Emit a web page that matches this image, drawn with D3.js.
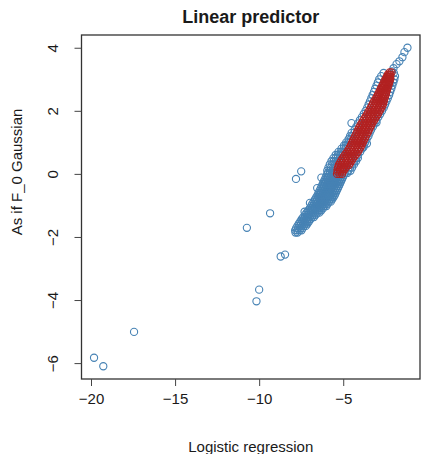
<!DOCTYPE html>
<html>
<head>
<meta charset="utf-8">
<script src="https://cdn.jsdelivr.net/npm/d3@7"></script>
<style>
    body { margin: 0; background: #fff; }
    text { font-family: "Liberation Sans", Arial, sans-serif; fill: #1a1a1a; }
</style>
</head>
<body>
<div id="chart"></div>
<script>
// isolated blue points (logistic, gaussian)
var blueSingles = [
    [-19.82, -5.83], [-19.27, -6.10], [-17.44, -5.01], [-10.16, -4.04], [-10.00, -3.67],
    [-10.73, -1.71], [-9.35, -1.25], [-8.72, -2.62], [-8.46, -2.56], [-7.81, -0.16],
    [-7.50, 0.08], [-4.51, 1.61], [-3.59, 0.96], [-3.79, 0.85], [-3.02, 1.63],
    [-7.30, -1.20], [-7.12, -1.36], [-6.98, -0.92], [-6.55, -0.45], [-6.30, -0.12],
    [-2.62, 2.31], [-2.20, 2.86],
    [-1.18, 4.00], [-1.36, 3.86], [-1.48, 3.70], [-1.66, 3.57], [-1.83, 3.48],
    [-2.01, 3.35], [-2.10, 3.25]
];

// dense blue cloud, one row per y value: [y, x, x, ...]
var blueRows = [
    [-1.86, -7.84, -7.72],
    [-1.79, -7.86, -7.73, -7.60, -7.48],
    [-1.72, -7.80, -7.67, -7.54, -7.41],
    [-1.65, -7.72, -7.59, -7.46, -7.33, -7.22],
    [-1.58, -7.64, -7.51, -7.38, -7.25, -7.13],
    [-1.51, -7.55, -7.42, -7.29, -7.16, -7.04],
    [-1.44, -7.47, -7.34, -7.21, -7.08, -6.95],
    [-1.37, -7.38, -7.25, -7.12, -6.99, -6.86, -6.74],
    [-1.30, -7.28, -7.15, -7.02, -6.89, -6.76, -6.64],
    [-1.23, -7.18, -7.05, -6.92, -6.79, -6.66, -6.53, -6.42],
    [-1.16, -7.08, -6.95, -6.82, -6.69, -6.56, -6.43, -6.31],
    [-1.09, -6.98, -6.85, -6.72, -6.59, -6.46, -6.33, -6.20],
    [-1.02, -6.90, -6.77, -6.64, -6.51, -6.38, -6.25, -6.12, -6.00],
    [-0.95, -6.84, -6.71, -6.58, -6.45, -6.32, -6.19, -6.06, -5.93],
    [-0.88, -6.76, -6.63, -6.50, -6.37, -6.24, -6.11, -5.98, -5.85, -5.74],
    [-0.81, -6.68, -6.55, -6.42, -6.29, -6.16, -6.03, -5.90, -5.77, -5.66],
    [-0.74, -6.60, -6.47, -6.34, -6.21, -6.08, -5.95, -5.82, -5.69, -5.58],
    [-0.67, -6.52, -6.39, -6.26, -6.13, -6.00, -5.87, -5.74, -5.61, -5.50],
    [-0.60, -6.46, -6.33, -6.20, -6.07, -5.94, -5.81, -5.68, -5.55, -5.44],
    [-0.53, -6.40, -6.27, -6.14, -6.01, -5.88, -5.75, -5.62, -5.49, -5.38],
    [-0.46, -6.34, -6.21, -6.08, -5.95, -5.82, -5.69, -5.56, -5.43, -5.32],
    [-0.39, -6.28, -6.15, -6.02, -5.89, -5.76, -5.63, -5.50, -5.37, -5.26],
    [-0.32, -6.22, -6.09, -5.96, -5.83, -5.70, -5.57, -5.44, -5.31, -5.20],
    [-0.25, -6.16, -6.03, -5.90, -5.77, -5.64, -5.51, -5.38, -5.25, -5.14],
    [-0.18, -6.10, -5.97, -5.84, -5.71, -5.58, -5.45, -5.32, -5.19, -5.08],
    [-0.11, -6.04, -5.91, -5.78, -5.65, -5.52, -5.39, -5.26, -5.13, -5.02],
    [-0.04, -5.98, -5.85, -5.72, -5.59, -5.46, -5.33, -5.20, -5.07, -4.96],
    [0.03, -5.92, -5.79, -5.66, -5.53, -4.88, -4.76],
    [0.10, -5.95, -5.80, -5.65, -5.50, -4.70, -4.57],
    [0.20, -5.88, -5.73, -5.58, -5.45, -4.60, -4.47],
    [0.30, -5.80, -5.65, -5.50, -5.38, -4.49, -4.36],
    [0.40, -5.70, -5.56, -5.42, -5.28, -4.37, -4.24],
    [0.50, -5.58, -5.44, -5.32, -5.17, -4.26, -4.13],
    [0.60, -5.45, -5.32, -5.19, -5.05, -4.13],
    [0.70, -5.28, -5.15, -5.04, -4.91, -3.99],
    [0.80, -5.10, -4.97, -4.83, -3.88],
    [0.90, -4.95, -4.84, -4.71, -3.78],
    [1.00, -4.82, -4.70, -4.60, -3.69],
    [1.10, -4.68, -4.54, -3.61],
    [1.20, -4.59, -4.45, -3.50],
    [1.30, -4.50, -4.34, -3.43],
    [1.40, -4.32, -3.34],
    [1.50, -4.22, -3.23],
    [1.60, -4.12, -3.14],
    [1.70, -4.01, -3.03],
    [1.80, -3.89, -2.91],
    [1.90, -3.78, -2.80],
    [2.00, -3.67, -2.69],
    [2.10, -3.57, -2.59],
    [2.20, -3.49, -2.51],
    [2.30, -3.41, -2.43],
    [2.40, -3.33, -2.35],
    [2.50, -3.25, -2.27],
    [2.60, -3.17, -2.21],
    [2.70, -3.10, -2.14],
    [2.80, -3.02, -2.08],
    [2.90, -2.94, -2.02],
    [3.00, -2.86, -1.96],
    [3.10, -2.74, -1.92],
    [3.20, -2.60, -1.99]
];

// red cloud, same layout: [y, x, x, ...]
var redRows = [
    [0.00, -5.37, -5.22, -5.07],
    [0.07, -5.33, -5.18, -5.03],
    [0.14, -5.34, -5.19, -5.04, -4.92],
    [0.21, -5.30, -5.14, -4.98, -4.84],
    [0.28, -5.26, -5.10, -4.94, -4.80, -4.66],
    [0.35, -5.19, -5.03, -4.88, -4.73, -4.58],
    [0.42, -5.12, -4.96, -4.80, -4.64, -4.50],
    [0.49, -5.04, -4.88, -4.72, -4.57, -4.42],
    [0.56, -4.95, -4.79, -4.63, -4.48, -4.33],
    [0.63, -4.86, -4.70, -4.54, -4.38, -4.22],
    [0.70, -4.76, -4.60, -4.44, -4.29, -4.13],
    [0.77, -4.68, -4.52, -4.36, -4.20, -4.05],
    [0.84, -4.61, -4.45, -4.29, -4.13, -3.98],
    [0.91, -4.54, -4.38, -4.22, -4.06, -3.91],
    [0.98, -4.48, -4.32, -4.16, -4.00, -3.85],
    [1.05, -4.42, -4.26, -4.10, -3.94, -3.79],
    [1.12, -4.36, -4.20, -4.04, -3.88, -3.72],
    [1.19, -4.30, -4.14, -3.98, -3.82, -3.66],
    [1.26, -4.23, -4.07, -3.91, -3.75, -3.60],
    [1.33, -4.17, -4.01, -3.85, -3.69, -3.53],
    [1.40, -4.11, -3.95, -3.79, -3.63, -3.47],
    [1.47, -4.04, -3.88, -3.72, -3.56, -3.40],
    [1.54, -3.98, -3.82, -3.66, -3.50, -3.34],
    [1.61, -3.90, -3.74, -3.58, -3.42, -3.27],
    [1.68, -3.82, -3.66, -3.50, -3.34, -3.19],
    [1.75, -3.74, -3.58, -3.42, -3.26, -3.11],
    [1.82, -3.66, -3.50, -3.34, -3.18, -3.03],
    [1.89, -3.58, -3.42, -3.26, -3.10, -2.95],
    [1.96, -3.51, -3.35, -3.19, -3.03, -2.88],
    [2.03, -3.43, -3.27, -3.11, -2.95, -2.80],
    [2.10, -3.36, -3.20, -3.04, -2.88, -2.73],
    [2.17, -3.29, -3.14, -2.98, -2.82, -2.67],
    [2.24, -3.22, -3.07, -2.92, -2.77, -2.62],
    [2.31, -3.15, -3.01, -2.87, -2.72, -2.59],
    [2.38, -3.07, -2.94, -2.81, -2.67, -2.55],
    [2.45, -3.00, -2.88, -2.76, -2.63, -2.51],
    [2.52, -2.93, -2.82, -2.70, -2.58, -2.47],
    [2.59, -2.86, -2.75, -2.65, -2.54, -2.44],
    [2.66, -2.80, -2.70, -2.60, -2.50, -2.40],
    [2.73, -2.74, -2.64, -2.55, -2.45, -2.36],
    [2.80, -2.67, -2.58, -2.50, -2.41, -2.32],
    [2.87, -2.61, -2.53, -2.45, -2.36, -2.28],
    [2.94, -2.55, -2.47, -2.40, -2.32, -2.24],
    [3.01, -2.48, -2.41, -2.34, -2.27, -2.20],
    [3.08, -2.41, -2.34, -2.27, -2.20],
    [3.15, -2.34, -2.27, -2.20],
    [3.22, -2.24, -2.13]
];

var xTicks = [-20, -15, -10, -5];
var yTicks = [-6, -4, -2, 0, 2, 4];

(function () {
    var width = 421,
        height = 454,
        left = 81.5, right = 420, top = 35, bottom = 379;

    // rows -> [x, y] pairs
    function unrow(rows) {
        var out = [];
        rows.forEach(function (r) {
            r.slice(1).forEach(function (v) { out.push([v, r[0]]); });
        });
        return out;
    }

    var blue = blueSingles.concat(unrow(blueRows)),
        red = unrow(redRows),
        all = blue.concat(red);

    // R style 4% padding
    var xe = d3.extent(all, function (d) { return d[0]; }),
        ye = d3.extent(all, function (d) { return d[1]; }),
        xp = (xe[1] - xe[0]) * 0.04,
        yp = (ye[1] - ye[0]) * 0.04;

    var x = d3.scaleLinear().domain([xe[0] - xp, xe[1] + xp]).range([left, right]);
    var y = d3.scaleLinear().domain([ye[0] - yp, ye[1] + yp]).range([bottom, top]);

    var svg = d3.select("#chart").append("svg")
        .attr("width", width)
        .attr("height", height);

    svg.append("rect")
        .attr("width", width).attr("height", height)
        .style("fill", "#fff");

    function dots(data, color) {
        svg.append("g")
            .selectAll("circle")
            .data(data)
            .enter().append("circle")
            .attr("cx", function (d) { return x(d[0]); })
            .attr("cy", function (d) { return y(d[1]); })
            .attr("r", 3.6)
            .style("fill", "none")
            .style("stroke", color)
            .style("stroke-width", 1.1);
    }
    dots(blue, "#4682b4");
    dots(red, "#b22222");

    // box
    svg.append("rect")
        .attr("x", left).attr("y", top)
        .attr("width", right - left).attr("height", bottom - top)
        .style("fill", "none")
        .style("stroke", "#333")
        .style("stroke-width", 1.3);

    var xAxis = svg.append("g")
        .attr("transform", "translate(0," + bottom + ")")
        .call(d3.axisBottom(x).tickValues(xTicks).tickSize(7).tickSizeOuter(0).tickFormat(d3.format("d")));
    xAxis.select(".domain").remove();
    xAxis.selectAll("line").style("stroke", "#444");
    xAxis.selectAll("text")
        .attr("y", 25).attr("dy", 0)
        .style("font-size", "15px")
        .style("font-family", "'Liberation Sans', Arial, sans-serif")
        .style("fill", "#1a1a1a");

    var yAxis = svg.append("g")
        .attr("transform", "translate(" + left + ",0)")
        .call(d3.axisLeft(y).tickValues(yTicks).tickSize(7).tickSizeOuter(0).tickFormat(d3.format("d")));
    yAxis.select(".domain").remove();
    yAxis.selectAll("line").style("stroke", "#444");
    yAxis.selectAll("text")
        .attr("x", 0).attr("y", 0).attr("dy", 0)
        .attr("transform", "translate(-23.5,0) rotate(-90)")
        .style("text-anchor", "middle")
        .style("font-size", "15px")
        .style("font-family", "'Liberation Sans', Arial, sans-serif")
        .style("fill", "#1a1a1a");

    svg.append("text")
        .attr("x", (left + right) / 2).attr("y", 23)
        .style("text-anchor", "middle")
        .style("font-size", "18px")
        .style("font-weight", "bold")
        .text("Linear predictor");

    svg.append("text")
        .attr("x", (left + right) / 2).attr("y", 452)
        .style("text-anchor", "middle")
        .style("font-size", "15px")
        .text("Logistic regression");

    svg.append("text")
        .attr("transform", "translate(21.5,172) rotate(-90)")
        .style("text-anchor", "middle")
        .style("font-size", "15px")
        .text("As if F_0 Gaussian");
}());
</script>
</body>
</html>
